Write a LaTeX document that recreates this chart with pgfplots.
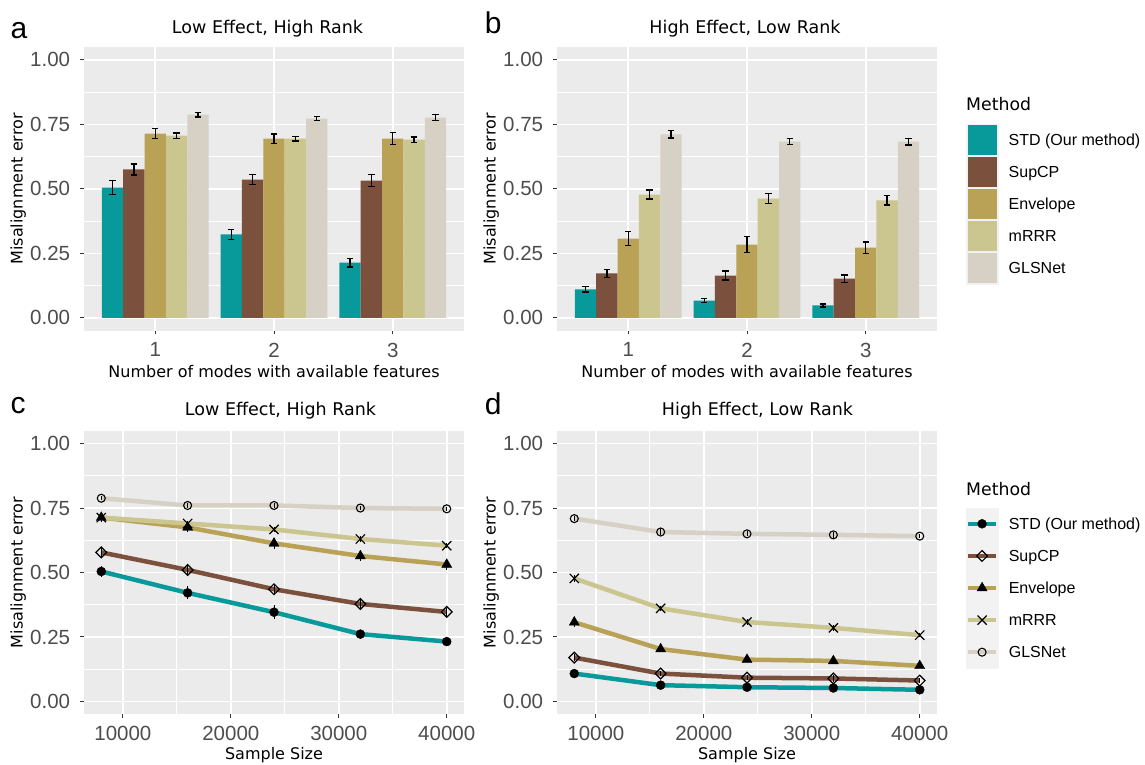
\documentclass[border=0pt]{standalone}
\usepackage{fontspec}
\setmainfont{Liberation Sans}
\newfontfamily\dejavu{DejaVu Sans}
\usepackage{pgfplots}
\usepackage{pgfplotstable}
\pgfplotsset{compat=1.18}

\definecolor{cstd}{HTML}{089A9B}
\definecolor{csup}{HTML}{7B513E}
\definecolor{cenv}{HTML}{B9A156}
\definecolor{cmrrr}{HTML}{CBC68F}
\definecolor{cgls}{HTML}{D7D0C5}
\definecolor{panelbg}{HTML}{EBEBEB}
\definecolor{keybg}{HTML}{F2F2F2}
\definecolor{tickgray}{HTML}{4D4D4D}
\definecolor{tickline}{HTML}{333333}

% bar panels: modes with features, mean and error for each method
\pgfplotstableread{
k std stde sup supe env enve mrrr mrrre gls glse
1 0.505 0.027 0.575 0.021 0.714 0.019 0.706 0.010 0.788 0.009
2 0.323 0.020 0.536 0.020 0.695 0.018 0.695 0.009 0.772 0.008
3 0.214 0.017 0.532 0.023 0.695 0.023 0.691 0.010 0.776 0.011
}\barsA
\pgfplotstableread{
k std stde sup supe env enve mrrr mrrre gls glse
1 0.110 0.010 0.172 0.016 0.307 0.027 0.478 0.017 0.711 0.014
2 0.067 0.009 0.164 0.018 0.284 0.032 0.462 0.019 0.683 0.012
3 0.048 0.006 0.152 0.014 0.272 0.022 0.455 0.018 0.683 0.013
}\barsB
% line panels: sample size
\pgfplotstableread{
n std stde sup supe env enve mrrr mrrre gls glse
8000  0.504 0.022 0.578 0.018 0.713 0.018 0.713 0.010 0.788 0.008
16000 0.421 0.025 0.510 0.018 0.675 0.018 0.690 0.010 0.760 0.008
24000 0.346 0.027 0.435 0.018 0.613 0.020 0.667 0.010 0.760 0.008
32000 0.261 0.012 0.378 0.014 0.564 0.020 0.630 0.010 0.750 0.008
40000 0.232 0.010 0.347 0.014 0.531 0.022 0.604 0.010 0.747 0.008
}\linesC
\pgfplotstableread{
n std stde sup supe env enve mrrr mrrre gls glse
8000  0.108 0.006 0.170 0.012 0.307 0.020 0.477 0.012 0.709 0.010
16000 0.063 0.005 0.108 0.010 0.203 0.012 0.361 0.010 0.657 0.010
24000 0.055 0.005 0.092 0.010 0.162 0.010 0.308 0.010 0.650 0.010
32000 0.052 0.005 0.089 0.012 0.157 0.010 0.285 0.012 0.646 0.012
40000 0.045 0.005 0.081 0.008 0.138 0.008 0.257 0.008 0.641 0.008
}\linesD

\tikzset{
  mstd/.style={mark=*, mark size=4.5pt, mark options={fill=black, draw=black, line width=0.4pt}},
  msup/.style={mark=square, mark size=3.8pt, mark options={rotate=45, draw=black, fill=none, line width=1.2pt}},
  menv/.style={mark=triangle*, mark size=5.8pt, mark options={fill=black, draw=black, line width=0.4pt}},
  mmrrr/.style={mark=x, mark size=6.5pt, mark options={draw=black, line width=1.2pt}},
  mgls/.style={mark=o, mark size=4pt, mark options={draw=black, fill=none, line width=1.1pt}},
}

\pgfplotsset{
  gg/.style={
    scale only axis, width=380pt, height=283.7pt, anchor=south west,
    axis background/.style={fill=panelbg},
    axis line style={draw=none},
    ymin=-0.05, ymax=1.05,
    ytick={0,0.25,0.5,0.75,1}, yticklabels={0.00,0.25,0.50,0.75,1.00},
    minor ytick={0.125,0.375,0.625,0.875},
    grid=both,
    major grid style={white, line width=1.6pt},
    minor grid style={white, line width=0.8pt},
    tick align=outside, tick pos=left,
    major tick length=3.7pt, minor tick length=0pt,
    tick style={tickline, line width=1pt},
    scaled ticks=false,
    ticklabel style={font=\fontsize{20.5}{22}\selectfont, text=tickgray, inner sep=0pt},
    yticklabel style={anchor=east, xshift=-10pt},
    xticklabel style={anchor=north, yshift=-8.3pt},
    ylabel={Misalignment error},
    ylabel style={font=\dejavu\fontsize{16}{18}\selectfont, at={(axis description cs:-0.173,0.5)}, anchor=center},
    xlabel style={font=\dejavu\fontsize{16}{18}\selectfont, at={(axis description cs:0.5,-0.1657)}, anchor=base},
  },
  ebbar/.style={error bars/y dir=both, error bars/y explicit, error bars/error mark=|,
    error bars/error bar style={black, line width=1.3pt},
    error bars/error mark options={black, line width=1.3pt, mark size=3.2pt}},
  ebline/.style={error bars/y dir=both, error bars/y explicit, error bars/error mark=none,
    error bars/error bar style={black, line width=1pt}},
  barkey/.style={legend image code/.code={
    \fill[keybg] (0pt,-10pt) rectangle (31.7pt,21.7pt);
    \fill[#1] (1.5pt,-8.5pt) rectangle (30.2pt,20.2pt);}},
  linekey/.style 2 args={legend image code/.code={
    \fill[keybg] (0pt,-10pt) rectangle (31.7pt,21.7pt);
    \draw[#1, line width=4.5pt] (2pt,5.8pt) -- (29.7pt,5.8pt);
    \path[#2] plot coordinates {(15.85pt,5.8pt)};}},
  ggleg/.style={legend style={at={(axis description cs:1.0763,#1)}, anchor=north west,
    draw=none, fill=none, inner sep=0pt, outer sep=0pt, row sep=0pt, column sep=10.6pt,
    cells={anchor=base west},
    nodes={inner sep=0pt, outer sep=0pt, font=\fontsize{16}{18}\selectfont}}},
}

% bars are placed at k plus the dodge offset of each method
\newcommand{\barset}[1]{%
  \addplot[ybar, bar width=0.18, bar shift=0, fill=cstd, draw=none, ebbar, forget plot] table[x expr=\thisrow{k}-0.36, y=std, y error=stde] {#1};
  \addplot[ybar, bar width=0.18, bar shift=0, fill=csup, draw=none, ebbar, forget plot] table[x expr=\thisrow{k}-0.18, y=sup, y error=supe] {#1};
  \addplot[ybar, bar width=0.18, bar shift=0, fill=cenv, draw=none, ebbar, forget plot] table[x=k, y=env, y error=enve] {#1};
  \addplot[ybar, bar width=0.18, bar shift=0, fill=cmrrr, draw=none, ebbar, forget plot] table[x expr=\thisrow{k}+0.18, y=mrrr, y error=mrrre] {#1};
  \addplot[ybar, bar width=0.18, bar shift=0, fill=cgls, draw=none, ebbar, forget plot] table[x expr=\thisrow{k}+0.36, y=gls, y error=glse] {#1};
}
\newcommand{\lineset}[1]{%
  \addplot[cstd, line width=4.5pt, line join=round, forget plot] table[x=n, y=std] {#1};
  \addplot[csup, line width=4.5pt, line join=round, forget plot] table[x=n, y=sup] {#1};
  \addplot[cenv, line width=4.5pt, line join=round, forget plot] table[x=n, y=env] {#1};
  \addplot[cmrrr, line width=4.5pt, line join=round, forget plot] table[x=n, y=mrrr] {#1};
  \addplot[cgls, line width=4.5pt, line join=round, forget plot] table[x=n, y=gls] {#1};
  \addplot[only marks, mstd, ebline, forget plot] table[x=n, y=std, y error=stde] {#1};
  \addplot[only marks, msup, ebline, forget plot] table[x=n, y=sup, y error=supe] {#1};
  \addplot[only marks, menv, ebline, forget plot] table[x=n, y=env, y error=enve] {#1};
  \addplot[only marks, mmrrr, ebline, forget plot] table[x=n, y=mrrr, y error=mrrre] {#1};
  \addplot[only marks, mgls, ebline, forget plot] table[x=n, y=gls, y error=glse] {#1};
}

\begin{document}
\begin{tikzpicture}
\fill[white] (0,0) rectangle (1145pt,765pt);
\path[use as bounding box] (0,0) rectangle (1145pt,765pt);

% a
\begin{axis}[gg, at={(84pt,434.3pt)},
  xmin=0.4, xmax=3.6, xtick={1,2,3}, xticklabels={1,2,3},
  xlabel={Number of modes with available features}]
\barset{\barsA}
\end{axis}

% b
\begin{axis}[gg, at={(557pt,434.3pt)},
  xmin=0.4, xmax=3.6, xtick={1,2,3}, xticklabels={1,2,3},
  xlabel={Number of modes with available features}, ggleg=0.7303]
\barset{\barsB}
\addlegendimage{barkey=cstd}\addlegendentry{STD (Our method)}
\addlegendimage{barkey=csup}\addlegendentry{SupCP}
\addlegendimage{barkey=cenv}\addlegendentry{Envelope}
\addlegendimage{barkey=cmrrr}\addlegendentry{mRRR}
\addlegendimage{barkey=cgls}\addlegendentry{GLSNet}
\end{axis}

% c
\begin{axis}[gg, at={(84pt,50.7pt)}, height=283.6pt,
  xmin=6400, xmax=41600, xtick={10000,20000,30000,40000},
  xticklabels={10000,20000,30000,40000}, minor xtick={15000,25000,35000},
  xlabel={Sample Size}, xlabel style={at={(axis description cs:0.5,-0.161)}}]
\lineset{\linesC}
\end{axis}

% d
\begin{axis}[gg, at={(557pt,50.7pt)}, height=283.6pt,
  xmin=6400, xmax=41600, xtick={10000,20000,30000,40000},
  xticklabels={10000,20000,30000,40000}, minor xtick={15000,25000,35000},
  xlabel={Sample Size}, xlabel style={at={(axis description cs:0.5,-0.161)}}, ggleg=0.7285]
\lineset{\linesD}
\addlegendimage{linekey={cstd}{mstd}}\addlegendentry{STD (Our method)}
\addlegendimage{linekey={csup}{msup}}\addlegendentry{SupCP}
\addlegendimage{linekey={cenv}{menv}}\addlegendentry{Envelope}
\addlegendimage{linekey={cmrrr}{mmrrr}}\addlegendentry{mRRR}
\addlegendimage{linekey={cgls}{mgls}}\addlegendentry{GLSNet}
\end{axis}

% panel letters, titles, legend titles
\begin{scope}[every node/.style={inner sep=0pt}]
\node[anchor=base west, font=\fontsize{30}{32}\selectfont] at (10.5pt,726.7pt) {a};
\node[anchor=base west, font=\fontsize{30}{32}\selectfont] at (484.7pt,731.7pt) {b};
\node[anchor=base west, font=\fontsize{30}{32}\selectfont] at (10.5pt,351pt) {c};
\node[anchor=base west, font=\fontsize{30}{32}\selectfont] at (484.7pt,350pt) {d};
\node[anchor=base, font=\dejavu\fontsize{17.5}{20}\selectfont] at (267.5pt,731.7pt) {Low Effect, High Rank};
\node[anchor=base, font=\dejavu\fontsize{17.5}{20}\selectfont] at (745pt,731.7pt) {High Effect, Low Rank};
\node[anchor=base, font=\dejavu\fontsize{17.5}{20}\selectfont] at (280.5pt,349.4pt) {Low Effect, High Rank};
\node[anchor=base, font=\dejavu\fontsize{17.5}{20}\selectfont] at (757.5pt,349.4pt) {High Effect, Low Rank};
\node[anchor=base west, font=\dejavu\fontsize{17.3}{20}\selectfont] at (966pt,654.3pt) {Method};
\node[anchor=base west, font=\dejavu\fontsize{17.3}{20}\selectfont] at (966pt,269pt) {Method};
\end{scope}
\end{tikzpicture}
\end{document}
